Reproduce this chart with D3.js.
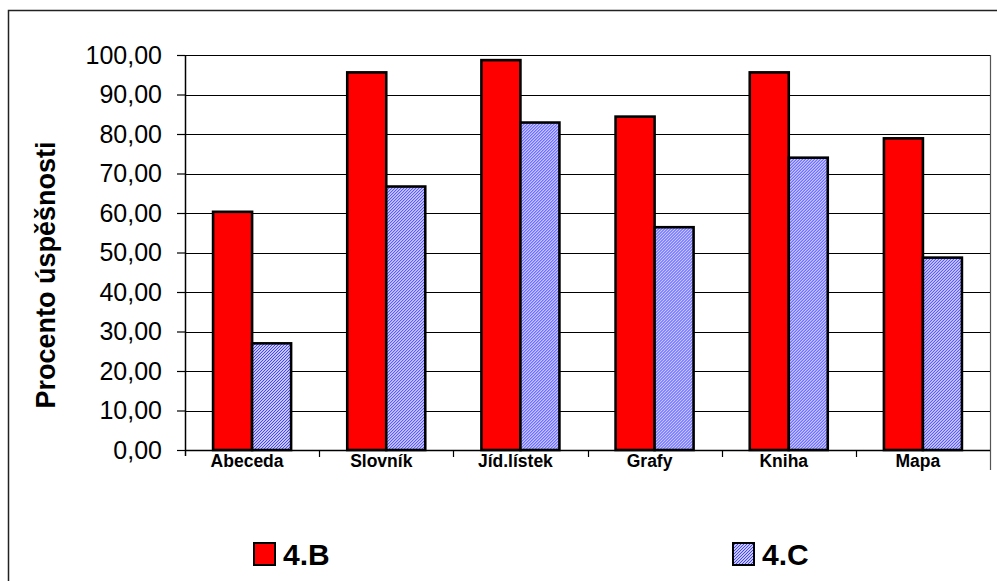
<!DOCTYPE html>
<html><head><meta charset="utf-8">
<script src="https://cdn.jsdelivr.net/npm/d3@7"></script>
<style>body{margin:0;background:#fff}svg{display:block}</style>
</head><body>
<svg id="c" width="997" height="581"></svg>
<script>
const categories = ["Abeceda","Slovník","Jíd.lístek","Grafy","Kniha","Mapa"];
const series = ["4.B","4.C"];
const values4B = [60.3, 95.6, 98.7, 84.4, 95.6, 78.9];
const values4C = [27.0, 66.7, 82.9, 56.4, 74.0, 48.7];
const yTicks = [0,10,20,30,40,50,60,70,80,90,100];
const yTitle = "Procento úspěšnosti";

const svg = d3.select("#c");
const font = "Arial, 'Liberation Sans', sans-serif";

const defs = svg.append("defs");
const pat = defs.append("pattern").attr("id","hatch").attr("patternUnits","userSpaceOnUse")
  .attr("width",3).attr("height",3);
pat.append("rect").attr("width",3).attr("height",3).attr("fill","#fff");
pat.append("path").attr("d","M-1,1 L1,-1 M0,3 L3,0 M2,4 L4,2")
  .attr("stroke","#3a3aff").attr("stroke-width",1.1);

// outer frame
svg.append("path").attr("d","M8.5,600 L8.5,10.5 L1000,10.5")
  .attr("fill","none").attr("stroke","#222").attr("stroke-width",1.5);

const L = 185, R = 990, T = 55, B = 450;
const x = d3.scaleBand().domain(categories).range([L,R]).paddingInner(0).paddingOuter(0);
const y = d3.scaleLinear().domain([0,100]).range([B,T]);
const inner = d3.scaleBand().domain(series).range([0,x.bandwidth()]).paddingInner(0).paddingOuter(0.72);

// plot area border (top & right)
svg.append("path").attr("d",`M${L},${T+0.5} L${R+0.5},${T+0.5} L${R+0.5},${B+20}`)
  .attr("fill","none").attr("stroke","#555").attr("stroke-width",1.2);

// gridlines
svg.append("g").selectAll("line").data(yTicks.filter(d=>d>0)).join("line")
  .attr("x1",L).attr("x2",R).attr("y1",d=>Math.round(y(d))+0.5).attr("y2",d=>Math.round(y(d))+0.5)
  .attr("stroke","#000").attr("stroke-width",1);

// bars
const data = categories.map((c,i)=>({c, v:[{s:"4.B",v:values4B[i]},{s:"4.C",v:values4C[i]}]}));
const g = svg.append("g").selectAll("g").data(data).join("g").attr("transform",d=>`translate(${x(d.c)},0)`);
g.selectAll("rect").data(d=>d.v).join("rect")
  .attr("x",d=>inner(d.s)).attr("width",inner.bandwidth())
  .attr("y",d=>y(d.v)).attr("height",d=>y(0)-y(d.v))
  .attr("fill",d=>d.s==="4.B"?"#ff0000":"url(#hatch)")
  .attr("stroke","#000").attr("stroke-width",2.6);

// y axis
const ya = svg.append("g").attr("transform",`translate(${L},0)`)
  .call(d3.axisLeft(y).tickValues(yTicks).tickSize(8).tickPadding(15)
    .tickFormat(d=>d3.format(".2f")(d).replace(".",",")));
ya.select(".domain").remove();
ya.selectAll(".tick line").attr("stroke","#000").attr("stroke-width",1.2);
ya.selectAll("text").attr("font-family",font).attr("font-size",25).attr("fill","#000");
svg.append("line").attr("x1",L+0.5).attr("x2",L+0.5).attr("y1",T).attr("y2",B+6)
  .attr("stroke","#000").attr("stroke-width",1.5);

// x axis
svg.append("line").attr("x1",L).attr("x2",R).attr("y1",B+0.5).attr("y2",B+0.5)
  .attr("stroke","#000").attr("stroke-width",1.5);
svg.append("g").selectAll("line").data(categories.slice(1)).join("line")
  .attr("x1",d=>Math.round(x(d))+0.5).attr("x2",d=>Math.round(x(d))+0.5)
  .attr("y1",B).attr("y2",B+7).attr("stroke","#000").attr("stroke-width",1.2);
svg.append("g").selectAll("text").data(categories).join("text")
  .attr("x",d=>x(d)+x.bandwidth()/2-5).attr("y",B+12)
  .attr("text-anchor","middle").attr("dominant-baseline","middle")
  .attr("font-family",font).attr("font-weight","bold").attr("font-size",17.5)
  .text(d=>d);

// y title
svg.append("text").attr("transform","translate(55,275) rotate(-90)")
  .attr("text-anchor","middle").attr("font-family",font).attr("font-weight","bold")
  .attr("font-size",27).text(yTitle);

// legend
const legX = [254, 733];
const lg = svg.append("g").selectAll("g").data(series).join("g")
  .attr("transform",(d,i)=>`translate(${legX[i]},543)`);
lg.append("rect").attr("width",21).attr("height",22)
  .attr("fill",d=>d==="4.B"?"#ff0000":"url(#hatch)").attr("stroke","#000").attr("stroke-width",2);
lg.append("text").attr("x",29).attr("y",22).attr("font-family",font).attr("font-weight","bold")
  .attr("font-size",30).text(d=>d);
</script>
</body></html>
